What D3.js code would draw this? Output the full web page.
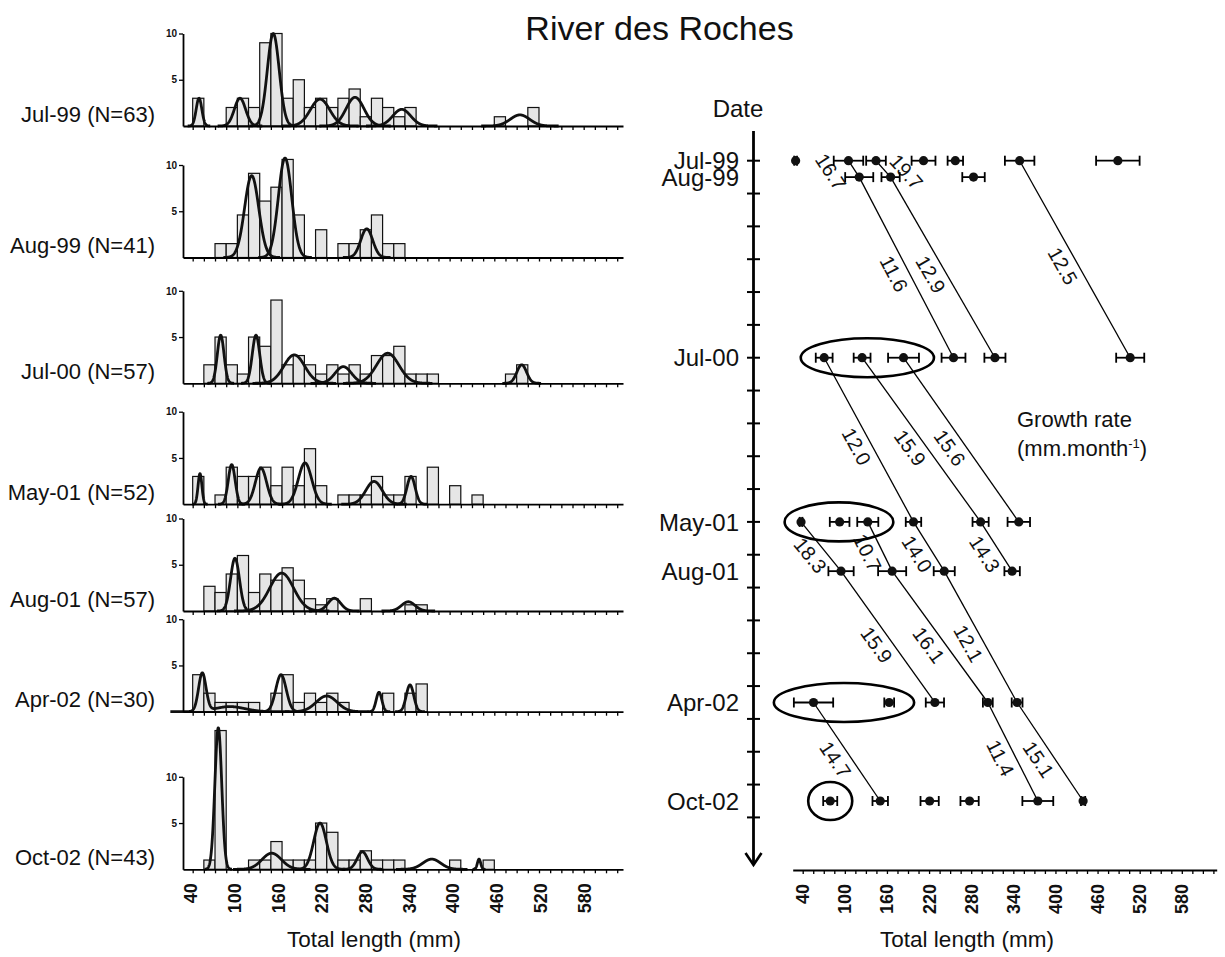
<!DOCTYPE html>
<html><head><meta charset="utf-8">
<script src="https://cdn.jsdelivr.net/npm/d3@7"></script>
<style>
body{margin:0;background:#fff;}
text{font-family:"Liberation Sans",Arial,Helvetica,sans-serif;fill:#111;}
</style></head><body>
<svg id="chart" width="1225" height="957"></svg>
<script>
// ================= DATA =================
const sampleDates = ["Jul-99","Aug-99","Jul-00","May-01","Aug-01","Apr-02","Oct-02"];
const sampleN = [63,41,57,52,57,30,43];
const monthsFromJul99 = [0,1,12,22,25,33,39];

// histogram bins: 15 mm wide, first bin starts at 40 mm
const binStart = 40, binWidth = 15;
const freqJul99 = [3,0,0,2,3,2,9,10,3,5,2,3,2,3,4,1,3,2,1,2,0,0,0,0,0,0,0,1,0,0,2];
const freqAug99 = [0,0,1.5,1.5,4.6,9.1,6.1,7.6,10.6,4.6,0,3.0,0,1.5,1.5,3.0,4.6,1.5,1.5];
const freqJul00 = [0,2,5,2,1,5,4,9,2,3,2,1,2,1,2,1,3,3,4,1,1,1,0,0,0,0,0,0,1,2];
const freqMay01 = [3,0,1,4,3,3,4,2,4,2,6,2,0,1,1,1,3,1,1,3,0,4,0,2,0,1];
const freqAug01 = [0,2.67,2,4,6,2,4,3.33,4.67,3.33,1.33,0.67,1.33,0,0,1.33,0,0,0,0.67,0.67];
const freqApr02 = [4,2,1,1,1,1,0,2,4,1,2,1,2,1,0,0,0,2,0,2,3];
const freqOct02 = [0,1,15,0,0,1,1,3,1,1,1,5,4,1,1,2,1,1,1,0,0,0,0,1,0,0,1];

// fitted normal components: each component = list of [mean mm, sd mm, peak]
const fitJul99 = [[[48.5,3.8,3.0]],[[103.5,7.5,3.0]],[[148.2,8,10.0]],[[211.0,13,2.9]],[[258.0,12,3.1]],[[320.7,12,1.8]],[[479.4,13,1.2]]];
const fitAug99 = [[[119.2,9.5,8.85]],[[164.0,9,10.75]],[[273.7,8,3.1]]];
const fitJul00 = [[[77.6,4.5,5.2]],[[125.0,5,5.2]],[[176.4,14,3.07]],[[242.2,11,1.8]],[[301.9,15,3.25]],[[481.8,6.5,2.0]]];
const fitMay01 = [[[49.8,2.6,3.3]],[[92.4,4.6,4.28]],[[131.7,7.5,3.92]],[[190.8,9,4.46]],[[283.5,11,2.46]],[[333.2,5.5,3.0]]];
const fitAug01 = [[[96.8,6,5.7]],[[159.5,16,4.1]],[[230.2,8.5,1.38]],[[329.5,9,1.0]]];
const fitApr02 = [[[52.9,5,4.1],[90,20,0.55]],[[158.6,7,4.0]],[[219.9,14,1.7]],[[290.2,3.8,2.1]],[[331.8,5,2.9]]];
const fitOct02 = [[[74.4,4.6,15.3]],[[146.1,13,1.74]],[[211.0,8.5,5.0]],[[267.8,7,1.9]],[[361.0,12,1.1]],[[424.5,2.2,1.1]]];

// cohort mean total length (mm) and error (mm) per sampling date
const meanJul99 = [29.9,105.2,144.4,212.1,257.4,349.0,488.9];
const errJul99  = [2,21,14,17,11,21,31];
const meanAug99 = [120.5,165.2,283.3];
const errAug99  = [20,13,16];
const meanJul00 = [70.6,124.6,183.6,254.8,313.8,506.5];
const errJul00  = [12,12,22,17,15,20];
const meanMay01 = [37.6,92.6,132.7,197.8,293.4,347.8];
const errMay01  = [2,14,15,11,11.5,16];
const meanAug01 = [94.6,167.4,241.6,338.3];
const errAug01  = [18,20,15,11];
const meanApr02 = [55.4,163.2,228.3,303.7,345.4];
const errApr02  = [28,7,13,7,7.7];
const meanOct02 = [79.2,150.4,220.8,277.7,374.9,439.4];
const errOct02  = [10,11,13,13,22,3];

// growth links: [date, cohort idx] -> [date, cohort idx], rate (mm.month-1)
const growthFrom = [["Jul-99",1],["Jul-99",2],["Aug-99",0],["Aug-99",1],["Jul-99",5],
                    ["Jul-00",0],["Jul-00",1],["Jul-00",2],
                    ["May-01",0],["May-01",2],["May-01",3],["May-01",4],
                    ["Aug-01",0],["Aug-01",1],["Aug-01",2],
                    ["Apr-02",0],["Apr-02",3],["Apr-02",4]];
const growthTo   = [["Aug-99",0],["Aug-99",1],["Jul-00",3],["Jul-00",4],["Jul-00",5],
                    ["May-01",3],["May-01",4],["May-01",5],
                    ["Aug-01",0],["Aug-01",1],["Aug-01",2],["Aug-01",3],
                    ["Apr-02",2],["Apr-02",3],["Apr-02",4],
                    ["Oct-02",1],["Oct-02",4],["Oct-02",5]];
const growthRate = ["16.7","19.7","11.6","12.9","12.5","12.0","15.9","15.6","18.3","10.7","14.0","14.3","15.9","16.1","12.1","14.7","11.4","15.1"];
const growthLabelSide = [1,-1,1,1,1,1,1,1,1,1,1,1,1,1,1,1,1,1];

// encircled cohorts
const circledDates = ["Jul-00","May-01","Apr-02","Oct-02"];
const circledIdx   = [[0,1,2],[0,1,2],[0,1],[0]];

const xTickVals = d3.range(40, 626, 15);
const xLabelVals = [40,100,160,220,280,340,400,460,520,580];
const yTickVals = [5,10];

// ================= LAYOUT =================
const panelBase = [126, 257.5, 383.3, 504.2, 611, 711.7, 869.3];
const panelH = 92.5;
const freqs = [freqJul99,freqAug99,freqJul00,freqMay01,freqAug01,freqApr02,freqOct02];
const fits = [fitJul99,fitAug99,fitJul00,fitMay01,fitAug01,fitApr02,fitOct02];
const means = [meanJul99,meanAug99,meanJul00,meanMay01,meanAug01,meanApr02,meanOct02];
const errs = [errJul99,errAug99,errJul00,errMay01,errAug01,errApr02,errOct02];

const svg = d3.select("#chart");
// histogram / tick scale (left) and label scale (left)
const xB = d3.scaleLinear().domain([27.0, 617.8]).range([183, 623]);
const xL = d3.scaleLinear().domain([29.4, 633.4]).range([183, 623]);
const xR = d3.scaleLinear().domain([25.75, 629.7]).range([792.7, 1216.7]);
const yD = d3.scaleLinear().domain([0, 39]).range([160.7, 801]);

function styleAxis(g, w){
  g.select(".domain").attr("stroke","#000").attr("stroke-width",w);
  g.selectAll(".tick line").attr("stroke","#000").attr("stroke-width",1.3);
}

// title
svg.append("text").attr("x",659.5).attr("y",40).attr("text-anchor","middle")
  .style("font-size","34px").text("River des Roches");

// ---------- left histograms ----------
sampleDates.forEach((date,i)=>{
  const base = panelBase[i];
  const y = d3.scaleLinear().domain([0,10]).range([base, base-panelH]);
  const g = svg.append("g");
  const bars = freqs[i].map((h,k)=>({k,h})).filter(d=>d.h>0);
  g.selectAll("rect").data(bars).join("rect")
    .attr("x", d=>xB(binStart+binWidth*d.k))
    .attr("width", xB(binStart+binWidth)-xB(binStart))
    .attr("y", d=>y(d.h)).attr("height", d=>y(0)-y(d.h))
    .attr("fill","#e6e6e6").attr("stroke","#111").attr("stroke-width",1.2);
  const line = d3.line().x(d=>xB(d[0])).y(d=>y(d[1]));
  fits[i].forEach(comp=>{
    const lo = d3.min(comp, t=>t[0]-4*t[1]);
    const hi = d3.max(comp, t=>t[0]+4*t[1]);
    const pts = d3.range(lo, hi+0.01, 0.25).map(v=>[v, d3.sum(comp, t=>t[2]*Math.exp(-0.5*((v-t[0])/t[1])**2))]);
    g.append("path").attr("d", line(pts)).attr("fill","none")
      .attr("stroke","#111").attr("stroke-width",2.8).attr("stroke-linejoin","round");
  });
  const ay = g.append("g").attr("transform","translate(183,0)")
    .call(d3.axisLeft(y).tickValues(yTickVals).tickSize(4).tickSizeOuter(0).tickPadding(2));
  styleAxis(ay, 1.8);
  ay.selectAll("text").style("font-size","10px").style("font-weight","bold")
    .style("font-family","'Liberation Sans',Arial,sans-serif");
  const ax = g.append("g").attr("transform",`translate(0,${base})`)
    .call(d3.axisBottom(xB).tickValues(xTickVals.filter(v=>v<=615)).tickSize(4).tickSizeOuter(0).tickFormat(""));
  styleAxis(ax, 1.8);
  svg.append("text").attr("x",155).attr("y",base-4.5).attr("text-anchor","end")
    .style("font-size","22px").text(`${date} (N=${sampleN[i]})`);
});

const lastBase = panelBase[panelBase.length-1];
svg.append("g").selectAll("text").data(xLabelVals).join("text")
  .attr("transform", d=>`translate(${xL(d)},${lastBase+14}) rotate(-90)`)
  .attr("text-anchor","end").attr("dy","0.36em")
  .style("font-size","18px").style("font-weight","bold").text(d=>d);
svg.append("text").attr("x",374).attr("y",947).attr("text-anchor","middle")
  .style("font-size","22.5px").text("Total length (mm)");

// ---------- right panel ----------
const axisX = 753.5;
svg.append("text").attr("x",738).attr("y",117).attr("text-anchor","middle")
  .style("font-size","24px").text("Date");
svg.append("line").attr("x1",axisX).attr("x2",axisX).attr("y1",131).attr("y2",864)
  .attr("stroke","#000").attr("stroke-width",2.8);
svg.append("path").attr("d",`M${axisX-8},${853} L${axisX},${865} L${axisX+8},${853}`)
  .attr("fill","none").attr("stroke","#000").attr("stroke-width",2.6);
svg.append("g").selectAll("line").data(d3.range(0,41,2)).join("line")
  .attr("x1",axisX-6.5).attr("x2",axisX+6.5).attr("y1",d=>yD(d)).attr("y2",d=>yD(d))
  .attr("stroke","#000").attr("stroke-width",2);
svg.append("g").selectAll("text").data(sampleDates).join("text")
  .attr("x",739).attr("y",(d,i)=>yD(monthsFromJul99[i])).attr("dy","0.36em")
  .attr("text-anchor","end").style("font-size","24px").text(d=>d);

const axR = svg.append("g").attr("transform","translate(0,870)")
  .call(d3.axisBottom(xR).tickValues(xTickVals).tickSize(4).tickSizeOuter(0).tickFormat(""));
styleAxis(axR, 1.8);
svg.append("g").selectAll("text").data(xLabelVals).join("text")
  .attr("transform", d=>`translate(${xR(d)},884) rotate(-90)`)
  .attr("text-anchor","end").attr("dy","0.36em")
  .style("font-size","18px").style("font-weight","bold").text(d=>d);
svg.append("text").attr("x",967).attr("y",947).attr("text-anchor","middle")
  .style("font-size","22.5px").text("Total length (mm)");

const dateIdx = d=>sampleDates.indexOf(d);
const ptX = (d,k)=>xR(means[dateIdx(d)][k]);
const ptY = d=>yD(monthsFromJul99[dateIdx(d)]);

// growth lines + rate labels
const gl = svg.append("g");
growthRate.forEach((r,j)=>{
  const [fd,fk] = growthFrom[j], [td,tk] = growthTo[j];
  const x1 = ptX(fd,fk), y1 = ptY(fd), x2 = ptX(td,tk), y2 = ptY(td);
  gl.append("line").attr("x1",x1).attr("y1",y1).attr("x2",x2).attr("y2",y2)
    .attr("stroke","#000").attr("stroke-width",1.3);
  const th = Math.atan2(y2-y1, x2-x1);
  const len = Math.hypot(x2-x1,y2-y1);
  const side = growthLabelSide[j];
  let px, py;
  if (len < 40) { px = (x1+x2)/2 - side*23; py = (y1+y2)/2 + 3; }
  else { px = (x1+x2)/2 - 14*side*Math.sin(th); py = (y1+y2)/2 + 14*side*Math.cos(th); }
  gl.append("text").attr("transform",`translate(${px},${py}) rotate(${th*180/Math.PI})`)
    .attr("text-anchor","middle").attr("dy","0.35em").style("font-size","20px").text(r);
});

// ellipses
circledDates.forEach((d,c)=>{
  const i = dateIdx(d);
  const lo = d3.min(circledIdx[c], k=>xR(means[i][k]-errs[i][k]));
  const hi = d3.max(circledIdx[c], k=>xR(means[i][k]+errs[i][k]));
  const pad = circledIdx[c].length===2 ? 20 : 15;
  svg.append("ellipse").attr("cx",(lo+hi)/2).attr("cy",yD(monthsFromJul99[i]))
    .attr("rx",(hi-lo)/2+pad).attr("ry", circledIdx[c].length>1 ? 19.5 : 19)
    .attr("fill","none").attr("stroke","#000").attr("stroke-width",2.6);
});

// error bars and points
sampleDates.forEach((d,i)=>{
  const yy = yD(monthsFromJul99[i]);
  const g = svg.append("g");
  means[i].forEach((m,k)=>{
    const a = xR(m-errs[i][k]), b = xR(m+errs[i][k]);
    g.append("line").attr("x1",a).attr("x2",b).attr("y1",yy).attr("y2",yy).attr("stroke","#000").attr("stroke-width",1.8);
    [a,b].forEach(v=>g.append("line").attr("x1",v).attr("x2",v).attr("y1",yy-5).attr("y2",yy+5).attr("stroke","#000").attr("stroke-width",1.8));
    g.append("circle").attr("cx",xR(m)).attr("cy",yy).attr("r",4.6).attr("fill","#111");
  });
});

// legend text
svg.append("text").attr("x",1017).attr("y",427).style("font-size","22px").text("Growth rate");
const lg2 = svg.append("text").attr("x",1017).attr("y",456).style("font-size","22px");
lg2.append("tspan").text("(mm.month");
lg2.append("tspan").attr("dy",-8).style("font-size","13px").text("-1");
lg2.append("tspan").attr("dy",8).text(")");
</script>
</body></html>
